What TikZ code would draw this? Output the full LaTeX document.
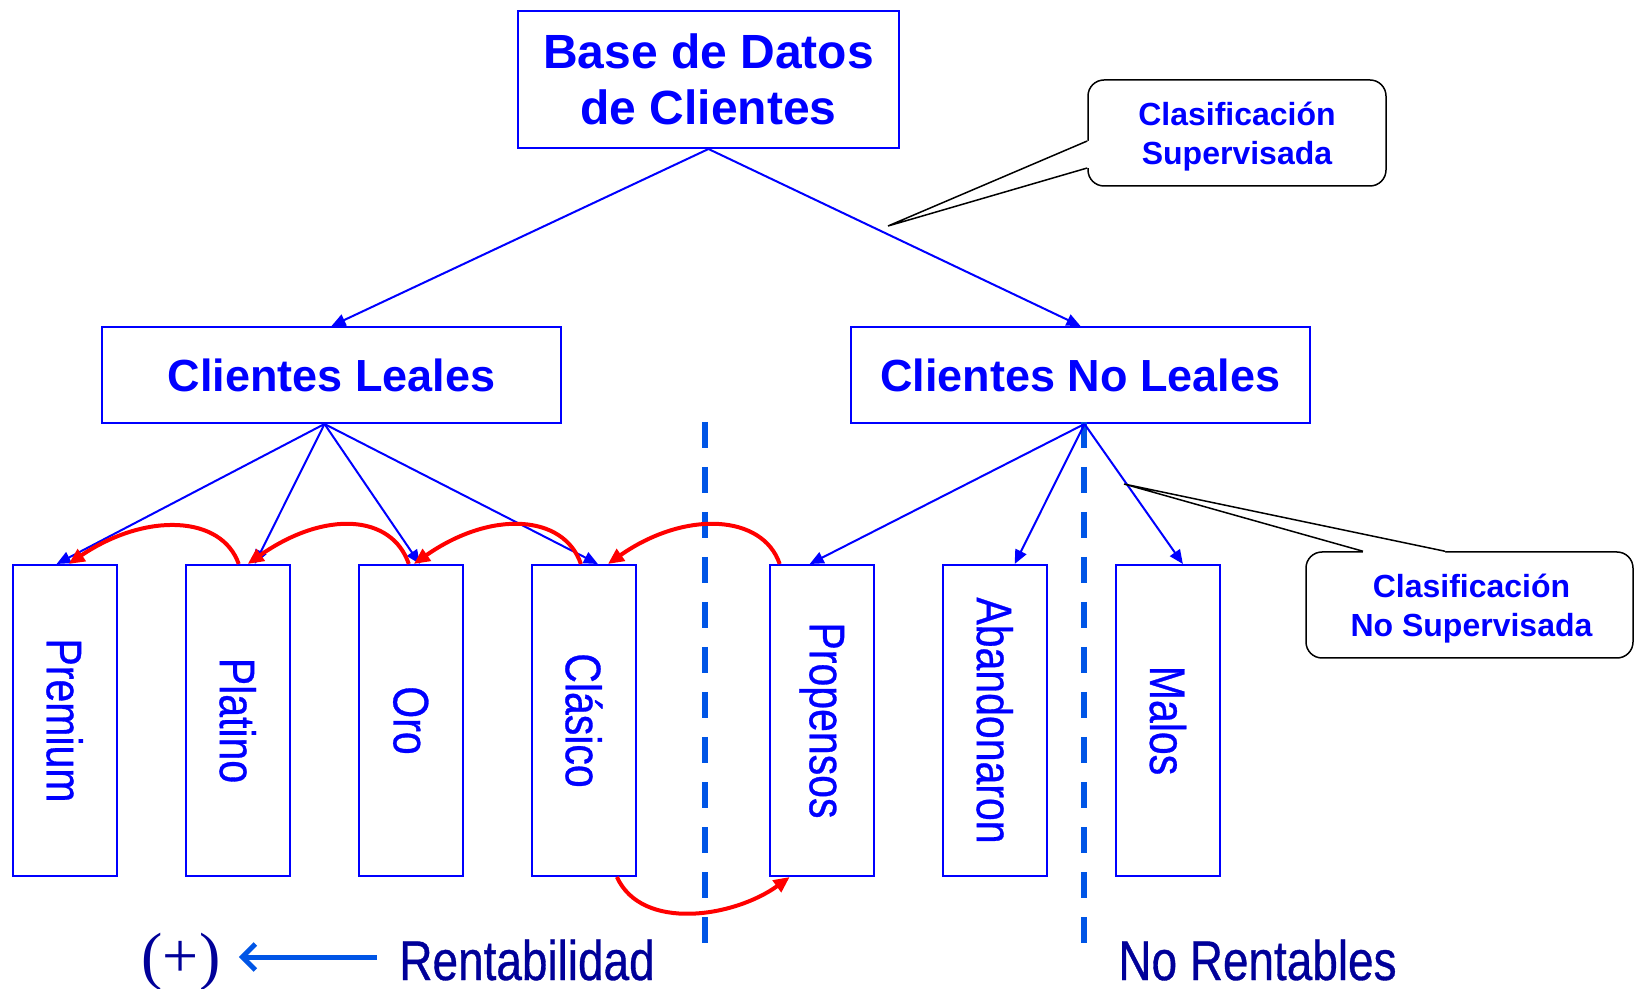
\documentclass[tikz,border=0pt]{standalone}
\usepackage{fontspec}
\setmainfont{Liberation Sans}
\newfontfamily\narrowfont[FakeStretch=0.82,FakeBold=0.6]{Liberation Sans}
\newfontfamily\timesfont{Liberation Serif}
\usetikzlibrary{arrows.meta,calc}
\definecolor{pblue}{RGB}{0,0,255}
\definecolor{dblue}{RGB}{0,85,230}
\definecolor{navy}{RGB}{0,0,153}
\definecolor{pred}{RGB}{255,0,0}
\begin{document}
\begin{tikzpicture}[x=0.5pt,y=-0.5pt,
  bigbox/.style={draw=pblue,line width=1pt,inner sep=0pt,text=pblue,align=center},
  smallbox/.style={draw=pblue,line width=1pt,minimum width=52pt,minimum height=155.5pt,inner sep=0pt},
  vtext/.style={rotate=-90,text=pblue,font=\narrowfont\fontsize{25}{30}\selectfont,inner sep=0pt},
  link/.style={draw=pblue,line width=1pt,-{Triangle[length=7pt,width=6pt]}},
  redlink/.style={draw=pred,line width=2pt,-{Triangle[length=8pt,width=7pt]}},
  divider/.style={draw=dblue,line width=3pt,dash pattern=on 13pt off 9.5pt},
  callout/.style={draw=black,line width=0.75pt,rounded corners=8pt,fill=white,inner sep=0pt},
  callouttext/.style={text=pblue,font=\bfseries\fontsize{16}{19.5}\selectfont,align=center,inner sep=0pt},
  pointer/.style={draw=black,line width=0.75pt},
  bottomtext/.style={text=navy,font=\narrowfont\fontsize{28}{32}\selectfont,inner sep=0pt,text depth=0pt,anchor=base west},
  bigarrow/.style={draw=dblue,line width=2.5pt,-{Straight Barb[length=6.5pt,width=13pt]}}
]
\useasboundingbox (0,0) rectangle (1635,989);

% main boxes
\node[bigbox,minimum width=190.5pt,minimum height=68.5pt,font=\bfseries\fontsize{24}{28}\selectfont] (base) at (708.5,79.5) {Base de Datos\\de Clientes};
\node[bigbox,minimum width=229.5pt,minimum height=48pt,font=\bfseries\fontsize{22.5}{27}\selectfont] (cl) at (331.5,375) {Clientes Leales};
\node[bigbox,minimum width=229.5pt,minimum height=48pt,font=\bfseries\fontsize{22.5}{27}\selectfont] (cnl) at (1080.5,375) {Clientes No Leales};

% small boxes
\node[smallbox] (premium) at (64.6,720.5) {};
\node[smallbox] (platino) at (237.7,720.5) {};
\node[smallbox] (oro) at (410.8,720.5) {};
\node[smallbox] (clasico) at (583.9,720.5) {};
\node[smallbox] (propensos) at (821.7,720.5) {};
\node[smallbox] (abandonaron) at (994.7,720.5) {};
\node[smallbox] (malos) at (1167.9,720.5) {};
\node[vtext] (premiumT) at (premium.center) {Premium};
\node[vtext] (platinoT) at (platino.center) {Platino};
\node[vtext] (oroT) at (oro.center) {Oro};
\node[vtext] (clasicoT) at (clasico.center) {Clásico};
\node[vtext] (propensosT) at (propensos.center) {Propensos};
\node[vtext] (abandonaronT) at (abandonaron.center) {Abandonaron};
\node[vtext] (malosT) at (malos.center) {Malos};

% dividers
\coordinate (d1top) at (705,422);
\coordinate (d1bot) at (705,957);
\coordinate (d2top) at (1084,422);
\coordinate (d2bot) at (1084,957);
\draw[divider] (d1top) -- (d1bot);
\draw[divider] (d2top) -- (d2bot);

% tree links
\draw[link] (base.south) -- (cl.north);
\draw[link] (base.south) -- (cnl.north);
\coordinate (clsrc) at ($(cl.south)+(-7,0)$);
\coordinate (cnlsrc) at ($(cnl.south)+(4,0)$);
\draw[link] (clsrc) -- ($(premium.north)+(-8,0)$);
\draw[link] (clsrc) -- ($(platino.north)+(17,0)$);
\draw[link] (clsrc) -- ($(oro.north)+(9,0)$);
\draw[link] (clsrc) -- ($(clasico.north)+(14,0)$);
\draw[link] (cnlsrc) -- ($(propensos.north)+(-12,0)$);
\draw[link] (cnlsrc) -- ($(abandonaron.north)+(20,0)$);
\draw[link] (cnlsrc) -- ($(malos.north)+(15,0)$);

% red arrows
\draw[redlink] ($(platino.north)+(1,0)$) .. controls +(-17,-49) and +(77,-52) .. ($(premium.north)+(4,0)$);
\draw[redlink] ($(oro.north)+(-2,0)$) .. controls +(-17,-50) and +(77,-54) .. ($(platino.north)+(10,0)$);
\draw[redlink] ($(clasico.north)+(-3,0)$) .. controls +(-17,-50) and +(77,-54) .. ($(oro.north)+(3,0)$);
\draw[redlink] ($(propensos.north)+(-42,0)$) .. controls +(-17,-50) and +(77,-54) .. ($(clasico.north)+(24,0)$);
\draw[redlink] ($(clasico.south)+(33,0)$) .. controls +(25,55) and +(-55,40) .. ($(propensos.south)+(-32,0)$);

% callouts
\node[callout,minimum width=149pt,minimum height=53pt] (call1) at (1237,133) {};
\coordinate (tip1) at (888,226);
\fill[white] (tip1) -- ($(call1.west)+(0,8)$) -- ($(call1.west)+(4,8)$) -- ($(call1.west)+(4,35)$) -- ($(call1.west)+(0,35)$) -- cycle;
\draw[pointer] ($(call1.west)+(0,8)$) -- (tip1) -- ($(call1.west)+(0,35)$);
\node[callouttext] (call1T) at ($(call1.center)+(0,4)$) {Clasificación\\Supervisada};

\node[callout,minimum width=163.5pt,minimum height=53pt] (call2) at (1469.5,605) {};
\coordinate (tip2) at (1124,484);
\fill[white] (tip2) -- ($(call2.north)+(-106.5,0)$) -- ($(call2.north)+(-106.5,4)$) -- ($(call2.north)+(-24.5,4)$) -- ($(call2.north)+(-24.5,0)$) -- cycle;
\draw[pointer] ($(call2.north)+(-106.5,0)$) -- (tip2) -- ($(call2.north)+(-24.5,0)$);
\node[callouttext] (call2T) at ($(call2.center)+(2,4)$) {Clasificación\\No Supervisada};

% bottom texts
\node[text=navy,font=\timesfont\fontsize{32}{36}\selectfont,inner sep=0pt] (plus) at (181,962) {(+)};
\node[bottomtext] (rent) at (399,980) {Rentabilidad};
\node[bottomtext] (norent) at (1118,980) {No Rentables};
\draw[bigarrow,shorten <=11pt,shorten >=9pt] (rent.west |- 0,957) -- (plus.east |- 0,957);
\end{tikzpicture}
\end{document}
